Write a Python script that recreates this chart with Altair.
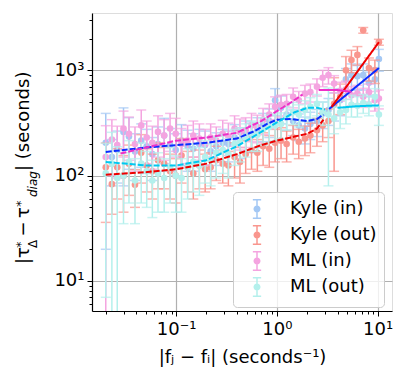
import altair as alt
import pandas as pd

# shared frequency-difference bins
X = [0.020, 0.023, 0.026, 0.030, 0.034, 0.039, 0.045, 0.051, 0.058, 0.066,
     0.076, 0.087, 0.099, 0.113, 0.13, 0.148, 0.17, 0.194, 0.22, 0.25,
     0.29, 0.33, 0.38, 0.43, 0.49, 0.56, 0.64, 0.73, 0.84, 0.96,
     1.1, 1.25, 1.45, 1.65, 1.9, 2.15, 2.5, 2.85, 3.25, 3.7,
     4.25, 4.85, 5.5, 6.3, 7.2, 8.2, 9.4, 10.3]

KI_Y = [205, 150, 175, 260, 235, 170, 215, 190, 160, 200, 240, 195, 175, 215, 190, 180,
        200, 195, 170, 190, 205, 200, 230, 215, 250, 240, 270, 300, 330, 520, 440, 380,
        330, 300, 280, 310, 330, 390, 420, 470, 520, 820, 900, 880, 900, 760, 820, 1280]
KI_E = [185, 70, 90, 180, 120, 80, 95, 85, 70, 90, 110, 85, 75, 90, 80, 70,
        75, 70, 60, 65, 70, 65, 75, 70, 80, 75, 85, 90, 100, 150, 130, 110,
        90, 85, 80, 90, 95, 110, 120, 140, 150, 220, 250, 230, 250, 200, 240, 300]

KO_Y = [120, 83, 120, 100, 130, 82, 165, 125, 110, 140, 130, 110, 100, 155, 120, 105,
        125, 115, 120, 140, 130, 125, 150, 135, 160, 175, 165, 190, 180, 205, 215, 200,
        230, 210, 225, 240, 270, 300, 330, 480, 560, 1000, 1250, 1400, 2400, 1050, 1000, 1850]
KO_E = [84, 40, 60, 55, 65, 32, 80, 55, 50, 65, 55, 50, 45, 70, 50, 45,
        50, 45, 45, 50, 45, 45, 55, 50, 55, 60, 55, 65, 60, 70, 70, 65,
        70, 65, 70, 75, 80, 90, 100, 370, 180, 350, 300, 280, 150, 260, 250, 120]

MI_Y = [150, 220, 195, 280, 250, 200, 300, 230, 205, 260, 240, 280, 250, 200, 215, 240,
        225, 200, 230, 215, 250, 235, 280, 260, 270, 300, 290, 340, 380, 450, 470, 480,
        560, 520, 600, 620, 700, 850, 900, 750, 640, 660, 580, 600, 560, 620, 520, 540]
MI_E = [148, 120, 100, 130, 110, 90, 120, 100, 90, 110, 100, 110, 100, 80, 85, 90,
        85, 75, 80, 75, 85, 80, 90, 85, 85, 90, 85, 95, 100, 110, 110, 110,
        120, 110, 120, 120, 130, 150, 160, 140, 130, 130, 120, 120, 115, 120, 110, 110]

MO_Y = [105, 130, 95, 100, 135, 90, 130, 110, 90, 105, 95, 120, 100, 95, 120, 135,
        125, 150, 140, 165, 175, 160, 200, 210, 230, 250, 245, 275, 290, 300, 310, 360,
        400, 380, 420, 450, 480, 400, 380, 350, 400, 420, 470, 460, 490, 470, 560, 380]
MO_E = [98, 128, 93, 65, 80, 55, 75, 60, 50, 60, 50, 65, 55, 50, 60, 65,
        60, 65, 60, 70, 70, 65, 75, 75, 80, 80, 75, 80, 85, 85, 85, 90,
        95, 90, 95, 100, 110, 100, 300, 100, 120, 110, 110, 100, 100, 100, 110, 80]

# fitted trend segments (segment 1 dashed, segment 2 solid)
KI_F1_X = [0.02, 0.05, 0.1, 0.2, 0.4, 0.6, 0.8, 1.0, 1.4, 2.0, 2.5, 2.9]
KI_F1_Y = [168, 185, 195, 205, 225, 265, 310, 340, 345, 330, 345, 380]
KI_F2_X = [3.3, 10.3]
KI_F2_Y = [430, 1050]

KO_F1_X = [0.02, 0.05, 0.1, 0.2, 0.4, 0.7, 1.0, 1.5, 2.0, 2.5, 2.9]
KO_F1_Y = [102, 108, 115, 130, 160, 195, 215, 235, 250, 280, 340]
KO_F2_X = [3.5, 10.3]
KO_F2_Y = [450, 1850]

MI_F1_X = [0.028, 0.05, 0.1, 0.2, 0.4, 0.7, 1.0, 1.4, 1.8]
MI_F1_Y = [162, 185, 215, 230, 255, 330, 410, 500, 590]
MI_F2_X = [2.6, 4.0, 5.5]
MI_F2_Y = [650, 650, 625]

MO_F1_X = [0.02, 0.05, 0.1, 0.2, 0.4, 0.7, 1.0, 1.5, 2.0, 2.5, 3.0]
MO_F1_Y = [135, 125, 125, 140, 190, 260, 320, 400, 440, 440, 425]
MO_F2_X = [4.0, 6.0, 10.3]
MO_F2_Y = [440, 455, 465]

SERIES = ["Kyle (in)", "Kyle (out)", "ML (in)", "ML (out)"]
PT_COLORS = ["#a4c8f4", "#f9968e", "#f4a4e0", "#b4f0ec"]
LINE_COLORS = ["#0a2cff", "#ee0000", "#ee30c8", "#00c8f0"]

# y-axis title pieces
YT_TEXT = ["|τ", "*", "Δ", "−", "τ", "*", "diag", "| (seconds)"]
YT_SIZE = [18, 13, 12, 18, 18, 13, 12, 18]
YT_STYLE = ["normal", "normal", "normal", "normal", "normal", "normal", "italic", "normal"]
YT_XPOS = [-63, -67, -55, -63, -63, -67, -55, -63]
YT_YPOS = [251, 235, 235, 216, 205, 194, 184, 158]
YT_ALIGN = ["left", "left", "left", "center", "left", "left", "left", "left"]

rows = []
for name, ys, es in zip(SERIES, [KI_Y, KO_Y, MI_Y, MO_Y], [KI_E, KO_E, MI_E, MO_E]):
    for i, (x, y, e) in enumerate(zip(X, ys, es)):
        lo = y - e
        rows.append({"series": name, "x": x, "y": y, "hi": y + e,
                     "lo": lo if lo > 0.5 else 0.5, "lo_ok": lo > 0.5, "idx": i})
pts = pd.DataFrame(rows)

frows = []
fits = [(KI_F1_X, KI_F1_Y, KI_F2_X, KI_F2_Y), (KO_F1_X, KO_F1_Y, KO_F2_X, KO_F2_Y),
        (MI_F1_X, MI_F1_Y, MI_F2_X, MI_F2_Y), (MO_F1_X, MO_F1_Y, MO_F2_X, MO_F2_Y)]
for name, (x1, y1, x2, y2) in zip(SERIES, fits):
    for x, y in zip(x1, y1):
        frows.append({"series": name, "seg": "a", "x": x, "y": y})
    for x, y in zip(x2, y2):
        frows.append({"series": name, "seg": "b", "x": x, "y": y})
fit = pd.DataFrame(frows)

FONT = "DejaVu Sans"
FS = 18

x_vals = [0.02, 0.03, 0.04, 0.05, 0.06, 0.07, 0.08, 0.09, 0.1, 0.2, 0.3, 0.4, 0.5, 0.6,
          0.7, 0.8, 0.9, 1, 2, 3, 4, 5, 6, 7, 8, 9, 10]
y_vals = [6, 7, 8, 9, 10, 20, 30, 40, 50, 60, 70, 80, 90, 100, 200, 300, 400, 500,
          600, 700, 800, 900, 1000, 2000, 3000]

major_test = "abs(log(datum.value)/log(10) - round(log(datum.value)/log(10))) < 0.001"

common_axis = dict(
    labelOverlap=False, labelFlush=False, labelFont=FONT, labelFontSize=FS, labelColor="black",
    domainColor="black", domainWidth=1.2, tickColor="black", tickWidth=1,
    tickSize={"condition": {"test": major_test, "value": 5}, "value": 3},
    gridColor="#b0b0b0", gridWidth=1.2,
    gridOpacity={"condition": {"test": major_test, "value": 1}, "value": 0},
)
x_axis = alt.Axis(
    values=x_vals,
    labelExpr="datum.value == 0.1 ? '10⁻¹' : datum.value == 1 ? '10⁰' : datum.value == 10 ? '10¹' : ''",
    labelPadding=4,
    title="|fⱼ − fᵢ| (seconds⁻¹)", titleFont=FONT, titleFontSize=FS, titleFontWeight="normal",
    titleColor="black", titlePadding=10, **common_axis)
y_axis = alt.Axis(
    values=y_vals,
    labelExpr="datum.value == 10 ? '10¹' : datum.value == 100 ? '10²' : datum.value == 1000 ? '10³' : ''",
    labelPadding=3, title=None, **common_axis)

xs = alt.Scale(type="log", domain=[0.0146, 13.9], nice=False)
ys = alt.Scale(type="log", domain=[5.19, 3500], nice=False)

legend_symbol = ("M-0.45,-1H0.45M0,-1V1M-0.45,1H0.45"
                 "M-0.3,0A0.3,0.3 0 1,1 0.3,0A0.3,0.3 0 1,1 -0.3,0Z")

legend = alt.Legend(
    title=None, orient="none", legendX=141, legendY=179,
    symbolType=legend_symbol, symbolSize=340, symbolStrokeWidth=1.5, symbolOffset=7,
    labelFont=FONT, labelFontSize=FS, labelColor="black",
    rowPadding=0, padding=7, labelOffset=23,
    fillColor="rgba(255,255,255,0.8)", strokeColor="#cccccc",
    cornerRadius=4, symbolOpacity=1)
color = alt.Color("series:N", scale=alt.Scale(domain=SERIES, range=PT_COLORS), legend=legend)

base = alt.Chart(pts)
bars = base.mark_rule(strokeWidth=1.5, clip=True).encode(
    x=alt.X("x:Q", scale=xs, axis=x_axis), y=alt.Y("lo:Q", scale=ys, axis=y_axis),
    y2="hi:Q", color=color)
cap_hi = base.mark_tick(orient="horizontal", size=10, thickness=1.5, clip=True).encode(
    x="x:Q", y="hi:Q", color=color)
cap_lo = base.transform_filter("datum.lo_ok").mark_tick(
    orient="horizontal", size=10, thickness=1.5, clip=True).encode(
    x="x:Q", y="lo:Q", color=color)
dots = base.mark_circle(size=44, opacity=1, clip=True).encode(
    x="x:Q", y="y:Q", color=color)

lines = alt.Chart(fit).mark_line(strokeWidth=2, clip=True).encode(
    x="x:Q", y="y:Q",
    stroke=alt.Stroke("series:N", scale=alt.Scale(domain=SERIES, range=LINE_COLORS), legend=None),
    strokeDash=alt.StrokeDash("seg:N", scale=alt.Scale(domain=["a", "b"], range=[[6, 2], [1, 0]]),
                              legend=None),
    order="x:Q")

yt = pd.DataFrame({"t": YT_TEXT})
title_layers = []
for i in range(len(YT_TEXT)):
    title_layers.append(
        alt.Chart(yt.iloc[[i]]).mark_text(
            angle=270, align=YT_ALIGN[i], baseline="alphabetic", font=FONT,
            fontSize=YT_SIZE[i], fontStyle=YT_STYLE[i], color="black",
            x=YT_XPOS[i], y=YT_YPOS[i]).encode(text="t:N"))

layers = []
for s in SERIES:
    f = f"datum.series == '{s}'"
    layers += [bars.transform_filter(f), cap_hi.transform_filter(f),
               cap_lo.transform_filter(f), dots.transform_filter(f)]

chart = alt.layer(*layers, lines, *title_layers).resolve_scale(
    stroke="independent").properties(
    width=300, height=298,
    autosize=alt.AutoSizeParams(type="none"),
    padding={"left": 84, "top": 5, "right": 7, "bottom": 68},
).configure_view(stroke="black", strokeWidth=1.2).configure(background="white")

chart.save("out.html", embed_options={"renderer": "svg", "actions": False})
